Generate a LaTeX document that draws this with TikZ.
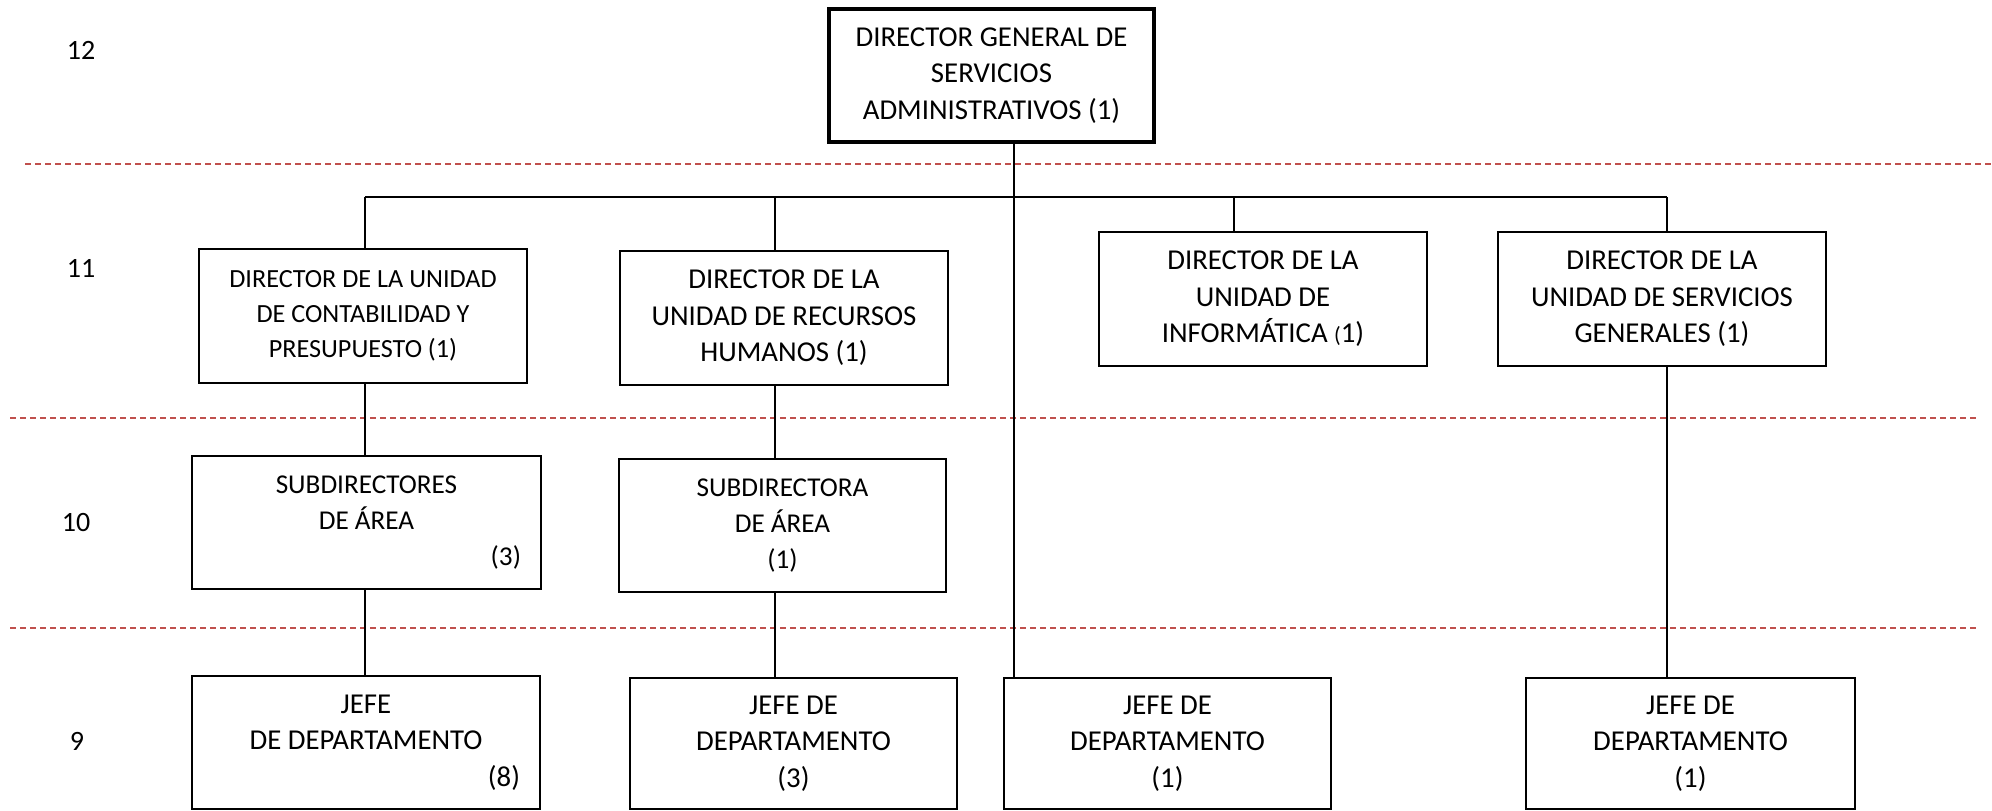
\documentclass[tikz,border=0pt]{standalone}
\usepackage{fontspec}
\setmainfont{Carlito}
\definecolor{rojonivel}{HTML}{C0504D}
\tikzset{
    puesto/.style={draw, line width=0.6pt, minimum width=164pt, minimum height=67pt,
        align=center, inner xsep=10pt, font=\fontsize{14.4}{18.3}\selectfont},
    num/.style={font=\fontsize{14}{17}\selectfont},
    nivel/.style={rojonivel, line width=0.8pt, dash pattern=on 3pt off 2pt},
    rama/.style={line width=0.6pt},
}
\begin{document}
\begin{tikzpicture}[x=0.5pt, y=-0.5pt]
            \useasboundingbox (0,0) rectangle (1992,810);

            \draw[nivel] (25,164) -- (1992,164);
            \draw[nivel] (10,418) -- (1977,418);
            \draw[nivel] (10,628) -- (1977,628);

            \node[num] (n12) at (81,50) {12};
            \node[num] (n11) at (81,268) {11};
            \node[num] (n10) at (76,522) {10};
            \node[num] (n9) at (77,741) {9};

            \node[puesto, line width=2pt, minimum width=162.5pt, minimum height=66.5pt] (dg) at (991.5,75.5) {DIRECTOR GENERAL DE\\SERVICIOS\\ADMINISTRATIVOS (1)};

            \node[puesto, font=\fontsize{13.1}{17.5}\selectfont] (d1) at (363,316) {DIRECTOR DE LA UNIDAD\\DE CONTABILIDAD Y\\PRESUPUESTO (1)};
            \node[puesto] (d2) at (784,318) {DIRECTOR DE LA\\UNIDAD DE RECURSOS\\HUMANOS (1)};
            \node[puesto] (d3) at (1263,299) {DIRECTOR DE LA\\UNIDAD DE\\INFORMÁTICA {\fontsize{11}{17}\selectfont(}1)};
            \node[puesto] (d4) at (1662,299) {DIRECTOR DE LA\\UNIDAD DE SERVICIOS\\GENERALES (1)};

            \node[puesto, font=\fontsize{13.6}{18}\selectfont, minimum height=66.5pt] (s1) at (366.5,522.5) {SUBDIRECTORES\\DE ÁREA\\\makebox[154.5pt][r]{(3)}};
            \node[puesto, font=\fontsize{13.6}{18}\selectfont, minimum width=163.5pt, minimum height=66.5pt] (s2) at (782.5,525.5) {SUBDIRECTORA\\DE ÁREA\\(1)};

            \node[puesto, minimum height=66.5pt] (j1) at (366,742.5) {JEFE\\DE DEPARTAMENTO\\\makebox[154pt][r]{(8)}};
            \node[puesto, minimum width=163.5pt, minimum height=65.5pt] (j2) at (793.5,743.5) {JEFE DE\\DEPARTAMENTO\\(3)};
            \node[puesto, minimum width=163.5pt, minimum height=65.5pt] (j3) at (1167.5,743.5) {JEFE DE\\DEPARTAMENTO\\(1)};
            \node[puesto, minimum width=164.5pt, minimum height=65.5pt] (j4) at (1690.5,743.5) {JEFE DE\\DEPARTAMENTO\\(1)};

            \coordinate (b1) at (365,197);
            \coordinate (b2) at (775,197);
            \coordinate (t) at (1014,197);
            \coordinate (b3) at (1234,197);
            \coordinate (b4) at (1667,197);

            \draw[line width=1.1pt] (b1) -- (b4);
            \draw[rama] (dg.south -| t) -- (j3.north -| t);
            \draw[rama] (b1) -- (d1.north -| b1);
            \draw[rama] (b2) -- (d2.north -| b2);
            \draw[rama] (b3) -- (d3.north -| b3);
            \draw[rama] (b4) -- (d4.north -| b4);
            \draw[rama] (d1.south -| b1) -- (s1.north -| b1);
            \draw[rama] (s1.south -| b1) -- (j1.north -| b1);
            \draw[rama] (d2.south -| b2) -- (s2.north -| b2);
            \draw[rama] (s2.south -| b2) -- (j2.north -| b2);
            \draw[rama] (d4.south -| b4) -- (j4.north -| b4);
        \end{tikzpicture}
\end{document}
